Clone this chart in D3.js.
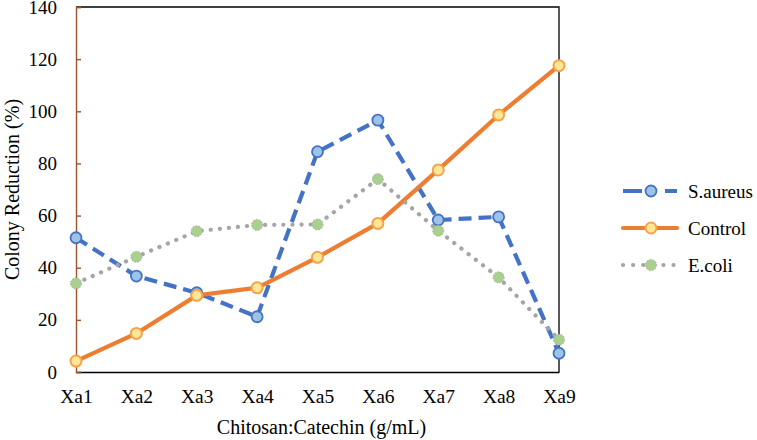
<!DOCTYPE html>
<html>
<head>
<meta charset="utf-8">
<script src="https://cdn.jsdelivr.net/npm/d3@7"></script>
<style>
  body { margin: 0; background: #fff; }
</style>
</head>
<body>
<div id="chart"></div>
<script>
// data
const categories = ["Xa1", "Xa2", "Xa3", "Xa4", "Xa5", "Xa6", "Xa7", "Xa8", "Xa9"];
const sAureus = [51.5, 36.8, 30.4, 21.2, 84.5, 96.6, 58.3, 59.5, 7.2];
const control = [4.2, 14.8, 29.4, 32.3, 44.0, 57.0, 77.5, 98.6, 117.5];
const eColi = [34.0, 44.2, 54.0, 56.4, 56.6, 74.0, 54.2, 36.3, 12.4];
const yTicks = [0, 20, 40, 60, 80, 100, 120, 140];

const FONT = "'Liberation Serif', 'Times New Roman', serif";
const W = 757, H = 440;
const margin = {top: 7, right: 198, bottom: 68, left: 76};
const width = W - margin.left - margin.right,
      height = H - margin.top - margin.bottom;

const svg = d3.select("#chart").append("svg")
    .attr("width", W).attr("height", H)
    .style("font-family", FONT);
const g = svg.append("g")
    .attr("transform", "translate(" + margin.left + "," + margin.top + ")");

const x = d3.scalePoint().domain(categories).range([0, width]).padding(0);
const y = d3.scaleLinear().domain([0, 140]).range([height, 0]);

// frame (top, right)
g.append("path")
    .attr("d", `M0,0H${width}V${height}`)
    .attr("fill", "none").attr("stroke", "#000").attr("stroke-width", 1.3);

// x axis
const xAxis = g.append("g")
    .attr("transform", "translate(0," + height + ")")
    .call(d3.axisBottom(x).tickSize(0).tickPadding(17));
xAxis.attr("font-family", null);
xAxis.select(".domain").attr("stroke", "#000").attr("stroke-width", 1.6);
xAxis.selectAll("text").style("font-size", "19.5px").style("font-family", FONT).attr("fill", "#000");

// y axis (brown, ticks pointing inward)
const yAxis = g.append("g")
    .call(d3.axisLeft(y).tickValues(yTicks).tickSize(-5).tickPadding(19));
yAxis.attr("font-family", null);
yAxis.select(".domain").attr("stroke", "#a0522d").attr("stroke-width", 1.4);
yAxis.selectAll(".tick line").attr("stroke", "#a0522d").attr("stroke-width", 1.4);
yAxis.selectAll("text").style("font-size", "19px").style("font-family", FONT).attr("fill", "#000");

// axis titles
svg.append("text")
    .attr("x", margin.left + width / 2 + 4).attr("y", 434)
    .attr("text-anchor", "middle").style("font-size", "20px")
    .text("Chitosan:Catechin (g/mL)");
svg.append("text")
    .attr("transform", "translate(19," + (margin.top + height / 2) + ") rotate(-90)")
    .attr("text-anchor", "middle").style("font-size", "20px")
    .text("Colony Reduction (%)");

const series = [
  {name: "S.aureus", values: sAureus, stroke: "#4472c4", dash: "13,7", legDash: "19,23,13,100", cap: "butt",
   mFill: "#9dc3e6", mStroke: "#4472c4", mDash: null, mStrokeW: 1.8},
  {name: "Control", values: control, stroke: "#ed7d31", dash: null, legDash: null, cap: "round",
   mFill: "#ffe699", mStroke: "#f4a447", mDash: null, mStrokeW: 2},
  {name: "E.coli", values: eColi, stroke: "#a5a5a5", dash: "0.1,9", legDash: "0.1,10", cap: "round",
   mFill: "#a9d18e", mStroke: "#a5a5a5", mDash: "1.5,1.5", mStrokeW: 1}
];

const line = d3.line().x((d, i) => x(categories[i])).y(d => y(d));

series.forEach(s => {
  g.append("path")
      .datum(s.values)
      .attr("d", line)
      .attr("fill", "none")
      .attr("stroke", s.stroke)
      .attr("stroke-width", 4.2)
      .attr("stroke-linecap", s.cap)
      .attr("stroke-linejoin", "round")
      .attr("stroke-dasharray", s.dash);
});

series.forEach(s => {
  g.selectAll(null).data(s.values).enter().append("circle")
      .attr("cx", (d, i) => x(categories[i]))
      .attr("cy", d => y(d))
      .attr("r", 5.5)
      .attr("fill", s.mFill)
      .attr("stroke", s.mStroke)
      .attr("stroke-width", s.mStrokeW)
      .attr("stroke-dasharray", s.mDash);
});

// legend
const legend = svg.append("g").attr("transform", "translate(621,191)");
series.forEach((s, i) => {
  const row = legend.append("g").attr("transform", "translate(0," + (i * 37) + ")");
  row.append("line")
      .attr("x1", 2).attr("x2", 56).attr("y1", 0).attr("y2", 0)
      .attr("stroke", s.stroke).attr("stroke-width", 4.2)
      .attr("stroke-linecap", s.cap)
      .attr("stroke-dasharray", s.legDash);
  row.append("circle")
      .attr("cx", 30).attr("cy", 0).attr("r", 5.5)
      .attr("fill", s.mFill).attr("stroke", s.mStroke)
      .attr("stroke-width", s.mStrokeW).attr("stroke-dasharray", s.mDash);
  row.append("text")
      .attr("x", 67).attr("y", 6.5)
      .style("font-size", "19px")
      .text(s.name);
});
</script>
</body>
</html>
